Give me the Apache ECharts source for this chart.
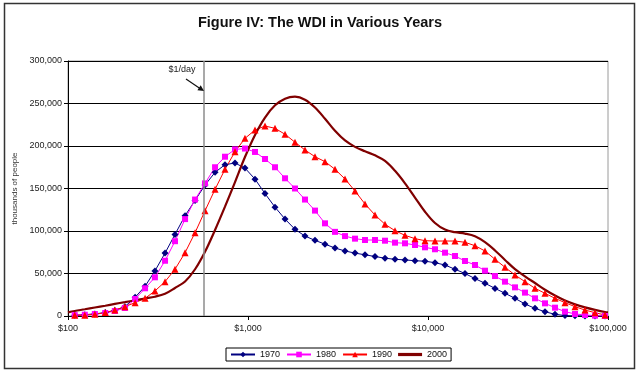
<!DOCTYPE html>
<html>
<head>
<meta charset="utf-8">
<script src="https://cdn.jsdelivr.net/npm/echarts@6/dist/echarts.min.js"></script>
<style>
html,body{margin:0;padding:0;background:#fff;}
#chart{width:640px;height:373px;}
</style>
</head>
<body>
<div id="chart"></div>
<script>
// Income levels (US$, log scale) at which the distributions are sampled
const incomes = [109, 124, 141, 161, 182, 207, 236, 268, 304, 346, 393, 447, 508, 577, 656, 745, 847, 962,
  1094, 1243, 1413, 1606, 1824, 2073, 2356, 2678, 3043, 3459, 3931, 4467, 5076, 5769, 6556, 7451, 8467, 9623,
  10936, 12428, 14125, 16052, 18243, 20733, 23562, 26778, 30432, 34585, 39305, 44668, 50764, 57692, 65564, 74511, 84679, 96235];

// The 2000 curve is drawn edge to edge of the income axis
const incomes2000 = [100, 109, 124, 141, 161, 182, 207, 236, 268, 304, 346, 393, 447, 508, 577, 656, 745, 847, 962,
  1094, 1243, 1413, 1606, 1824, 2073, 2356, 2678, 3043, 3459, 3931, 4467, 5076, 5769, 6556, 7451, 8467, 9623,
  10936, 12428, 14125, 16052, 18243, 20733, 23562, 26778, 30432, 34585, 39305, 44668, 50764, 57692, 65564, 74511, 84679, 96235, 100000];

const years = ['1970', '1980', '1990', '2000'];

const v1970 = [1000, 1500, 2500, 4000, 6500, 11000, 22000, 35000, 53000, 74000, 96000, 118000, 136000, 154000, 169000, 178000, 180000, 174000,
  161000, 144000, 128000, 114000, 102000, 94000, 89000, 84500, 80000, 76500, 74000, 72000, 70000, 68000, 66700, 66000, 65000, 64500,
  62700, 60000, 55000, 50000, 44000, 38500, 32500, 26700, 20800, 14100, 9000, 5000, 2000, 500, 200, 100, 0, 0];

const v1980 = [1000, 1500, 2300, 3500, 5900, 9400, 20000, 32600, 45500, 65000, 88000, 114000, 137000, 156000, 175000, 187400, 196000, 197000,
  193000, 184700, 175000, 162000, 150000, 137000, 124000, 109000, 99000, 94000, 91000, 89400, 89400, 88600, 86300, 85500, 83500, 80800,
  78500, 74500, 70600, 64700, 60000, 53300, 47000, 40400, 33700, 27500, 20800, 14900, 9800, 5100, 2400, 1200, 400, 0];

const v1990 = [800, 1000, 2000, 4000, 7000, 11000, 15700, 20800, 29400, 40400, 55000, 74500, 98000, 123700, 149000, 172600, 193300, 209000,
  218800, 223500, 220800, 213800, 204400, 195300, 187400, 181600, 172600, 161200, 147000, 131800, 118800, 107900, 100400, 94900, 91000, 88600,
  88200, 88200, 88200, 86700, 82700, 76500, 66700, 57300, 48200, 40400, 32600, 26700, 20800, 15700, 11000, 7000, 3900, 1200];

const v2000 = [4300, 5900, 7900, 10000, 12100, 14200, 16300, 18500, 20600, 22700, 26200, 33000, 40600, 55000, 75600, 101200, 128600, 157600, 187000,
  213000, 233500, 247900, 255700, 258000, 254500, 245300, 232100, 217900, 206500, 199000, 193800, 189000, 182400, 170800, 156100, 139400, 122700,
  109400, 101700, 98600, 96900, 93800, 86800, 77100, 65900, 55100, 46700, 38800, 30900, 24100, 18200, 13700, 10100, 7200, 4700, 4300];

const povertyLine = 570; // "$1/day" marker on the income axis
const xTicks = [100, 1000, 10000, 100000];

function pairs(xs, vals) { return xs.map((x, i) => [x, vals[i]]); }

const chart = echarts.init(document.getElementById('chart'), null, {renderer: 'canvas'});
const fontBase = "'Liberation Sans', Arial, sans-serif";

const option = {
  animation: false,
  backgroundColor: '#fff',
  title: {
    text: 'Figure IV: The WDI in Various Years',
    left: 'center',
    top: 10,
    textStyle: {fontFamily: "'Liberation Sans Narrow', 'Arial Narrow', 'Liberation Sans', sans-serif", fontWeight: 'bold', fontSize: 14.5, color: '#111'}
  },
  grid: {left: 68, right: 32, top: 61, bottom: 57, show: true, borderColor: '#9a9a9a', borderWidth: 1, backgroundColor: 'transparent'},
  legend: {
    data: ['1970', '1980', '1990', {name: '2000', icon: 'path://M0,0h24v3.2h-24z'}],
    left: 226,
    top: 348,
    orient: 'horizontal',
    borderColor: '#000',
    borderWidth: 1,
    padding: [2, 4],
    itemWidth: 24,
    itemHeight: 7,
    itemGap: 6,
    symbolKeepAspect: true,
    textStyle: {fontSize: 9, color: '#111', fontFamily: fontBase}
  },
  xAxis: {
    type: 'log',
    logBase: 10,
    min: 100,
    max: 100000,
    axisLine: {show: true, lineStyle: {color: '#000', width: 1}},
    axisTick: {show: true, length: 4, lineStyle: {color: '#000'}},
    minorTick: {show: false},
    splitLine: {show: false},
    axisLabel: {
      fontSize: 9, color: '#222', fontFamily: fontBase, margin: 8,
      formatter: function (v) {
        const r = Math.round(v);
        const t = xTicks.find(x => Math.abs(x - r) / x < 0.01);
        return t ? '$' + t.toLocaleString('en-US') : '';
      }
    }
  },
  yAxis: {
    type: 'value',
    min: 0,
    max: 300000,
    interval: 50000,
    name: 'thousands of people',
    nameLocation: 'middle',
    nameGap: 46,
    nameTextStyle: {fontSize: 8, color: '#333', fontFamily: fontBase},
    axisLine: {show: true, lineStyle: {color: '#000', width: 1}},
    axisTick: {show: true, length: 4, lineStyle: {color: '#000'}},
    splitLine: {show: true, lineStyle: {color: '#000', width: 1}},
    axisLabel: {fontSize: 9, color: '#222', fontFamily: fontBase, margin: 6,
      formatter: v => v.toLocaleString('en-US')}
  },
  series: [
    {
      name: '1970', type: 'line', data: pairs(incomes, v1970),
      symbol: 'diamond', symbolSize: 7, showAllSymbol: true,
      itemStyle: {color: '#000080'}, lineStyle: {color: '#000080', width: 1},
      markLine: {
        silent: true, symbol: 'none', animation: false,
        label: {show: false},
        lineStyle: {color: '#8c8c8c', width: 1.5, type: 'solid'},
        data: [{xAxis: povertyLine}]
      }
    },
    {
      name: '1980', type: 'line', data: pairs(incomes, v1980),
      symbol: 'rect', symbolSize: 6, showAllSymbol: true,
      itemStyle: {color: '#ff00ff'}, lineStyle: {color: '#ff00ff', width: 1}
    },
    {
      name: '1990', type: 'line', data: pairs(incomes, v1990),
      symbol: 'triangle', symbolSize: 7, showAllSymbol: true,
      itemStyle: {color: '#ff0000'}, lineStyle: {color: '#ff0000', width: 1}
    },
    {
      name: '2000', type: 'line', data: pairs(incomes2000, v2000),
      symbol: 'none', smooth: 0.35,
      itemStyle: {color: '#800000'}, lineStyle: {color: '#800000', width: 2.2}
    }
  ],
  graphic: [
    {type: 'rect', silent: true, shape: {x: 4.5, y: 3.5, width: 630, height: 365},
      style: {fill: 'none', stroke: '#333', lineWidth: 1.5}, z: 100},
    {type: 'text', silent: true, style: {text: '$1/day', x: 182, y: 70, textAlign: 'center', textVerticalAlign: 'middle',
      fontSize: 9, fill: '#222', fontFamily: fontBase}, z: 100},
    {type: 'line', silent: true, shape: {x1: 186, y1: 79, x2: 200, y2: 88.5}, style: {stroke: '#111', lineWidth: 1.2}, z: 100},
    {type: 'polygon', silent: true, shape: {points: [[204, 91], [197.4, 90.2], [200.7, 85.2]]}, style: {fill: '#111'}, z: 100}
  ]
};
chart.setOption(option);
</script>
</body>
</html>
